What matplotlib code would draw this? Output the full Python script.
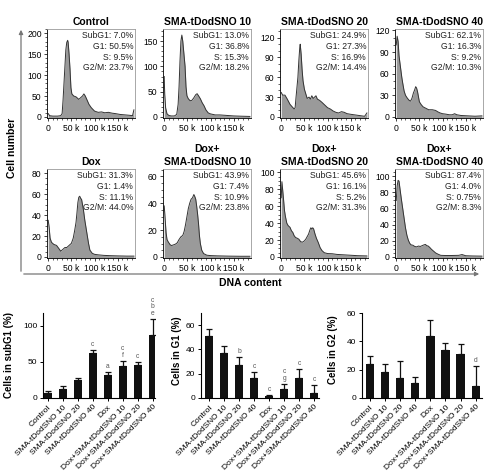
import numpy as np
import matplotlib
matplotlib.use("Agg")
import matplotlib.pyplot as plt
from matplotlib.patches import FancyArrowPatch
from matplotlib.ticker import MultipleLocator, FixedLocator

plt.rcParams['font.family'] = ['Liberation Sans', 'DejaVu Sans']

# ---- flow cytometry histograms: DNA content (k) vs cell count ----
control_x = [0, 3, 10, 20, 27, 30, 32, 35, 38, 40, 42, 43, 45, 47, 49, 51, 55, 60, 63, 66, 70, 74, 77,
             80, 84, 88, 93, 100, 108, 115, 122, 130, 138, 145, 155, 165, 175, 182, 185]
control_y = [8, 3, 2, 2, 3, 8, 40, 100, 160, 178, 183, 178, 150, 115, 70, 55, 50, 48, 45, 42, 46, 50, 55,
             50, 40, 30, 22, 14, 11, 12, 10, 11, 9, 8, 6, 5, 4, 3, 17]

sma10_x = [0, 1, 3, 6, 10, 15, 22, 27, 30, 32, 34, 36, 38, 40, 42, 45, 47, 49, 52, 56, 60, 64, 68, 71,
           74, 78, 82, 86, 90, 95, 100, 110, 120, 135, 150, 165, 185]
sma10_y = [80, 45, 18, 6, 3, 2, 2, 5, 25, 60, 110, 150, 162, 150, 130, 100, 60, 42, 36, 32, 33, 38, 44, 46,
           42, 36, 28, 22, 14, 8, 6, 4, 4, 3, 2, 1.5, 1]

sma20_x = [0, 3, 8, 13, 19, 24, 28, 30, 32, 34, 36, 38, 40, 41, 43, 45, 47, 50, 53, 56, 60, 63, 66, 69,
           72, 75, 78, 83, 88, 94, 100, 106, 112, 118, 124, 130, 136, 142, 150, 160, 170, 180, 185]
sma20_y = [37, 33, 33, 27, 19, 15, 12, 14, 30, 45, 60, 85, 105, 110, 95, 72, 55, 42, 35, 28, 30, 27, 32, 28,
           30, 32, 27, 25, 22, 18, 14, 12, 9, 7, 6, 8, 7, 5, 4, 3, 2, 1, 6]

sma40_x = [0, 2, 4, 6, 9, 12, 14, 17, 20, 24, 28, 31, 34, 37, 40, 42, 44, 46, 48, 50, 54, 58, 64, 70,
           78, 85, 90, 95, 100, 106, 115, 121, 126, 131, 140, 155, 170, 185]
sma40_y = [100, 112, 105, 85, 70, 55, 47, 36, 30, 26, 23, 22, 26, 33, 38, 42, 40, 35, 28, 21, 17, 14, 12, 10,
           10, 9, 7, 5.5, 4.5, 4, 3, 3, 4.5, 3, 2, 1.5, 1, 1.5]

dox_x = [0, 2, 4, 7, 12, 18, 23, 27, 31, 36, 40, 45, 50, 54, 57, 60, 62, 64, 66, 68, 70, 72, 74, 76,
         79, 83, 87, 90, 95, 100, 108, 120, 135, 150, 170, 185]
dox_y = [35, 28, 18, 14, 12, 11, 8, 5.5, 7, 9, 9, 11, 13, 18, 25, 33, 42, 52, 57, 58, 56, 55, 50, 45,
         35, 24, 13, 6.5, 3.5, 2.5, 2, 1.5, 1.2, 1, 0.8, 0.8]

dox10_x = [0, 2, 4, 6, 9, 13, 16, 20, 24, 28, 32, 36, 40, 43, 46, 49, 52, 55, 58, 61, 64, 66, 68, 70,
           72, 74, 76, 78, 81, 85, 92, 100, 115, 140, 165, 185]
dox10_y = [38, 28, 18, 13, 11, 9, 8.5, 9, 9.5, 10.5, 13, 15, 16, 19, 24, 30, 36, 40, 43, 44, 46.5, 45, 43, 38,
           32, 25, 16, 10, 5, 2.5, 1.3, 1, 0.8, 0.6, 0.5, 0.5]

dox20_x = [0, 1.5, 3, 5, 7, 9, 12, 15, 19, 22, 25, 28, 31, 35, 38, 42, 46, 50, 53, 56, 59, 62, 64, 66,
           68, 70, 73, 76, 80, 84, 88, 93, 100, 110, 120, 135, 150, 165, 185]
dox20_y = [70, 89, 80, 68, 55, 48, 40, 37, 35, 31, 29, 25, 23, 22, 21, 18, 17.5, 19, 21, 24, 27, 32, 34.5, 33,
           34.5, 33, 27, 22, 17, 11, 7.5, 5, 4, 3.8, 3, 2.5, 2, 1.5, 1.2]

dox40_x = [0, 2, 4, 6, 8, 11, 14, 17, 20, 23, 26, 29, 32, 36, 40, 44, 48, 52, 56, 60, 63, 66, 69, 72,
           76, 80, 85, 90, 96, 105, 120, 135, 142, 150, 165, 185]
dox40_y = [70, 88, 95, 94, 85, 72, 60, 48, 36, 27, 21, 17, 15, 14.5, 13, 12.5, 13.5, 13, 14, 15, 15.5, 14, 13.5, 12,
           9.5, 7.5, 5, 3.5, 2, 1.8, 1.8, 2, 3, 1.5, 1.2, 1]

hist_titles = ["Control", "SMA-tDodSNO 10", "SMA-tDodSNO 20", "SMA-tDodSNO 40",
               "Dox", "Dox+\nSMA-tDodSNO 10", "Dox+\nSMA-tDodSNO 20", "Dox+\nSMA-tDodSNO 40"]
subg1_pct = ["7.0%", "13.0%", "24.9%", "62.1%", "31.3%", "43.9%", "45.6%", "87.4%"]
g1_pct = ["50.5%", "36.8%", "27.3%", "16.3%", "1.4%", "7.4%", "16.1%", "4.0%"]
s_pct = ["9.5%", "15.3%", "16.9%", "9.2%", "11.1%", "10.9%", "5.2%", "0.75%"]
g2m_pct = ["23.7%", "18.2%", "14.4%", "10.3%", "44.0%", "23.8%", "31.3%", "8.3%"]
hist_ymax = [210, 174, 133, 122, 84, 65.5, 104, 109]
hist_ystep = [50, 50, 30, 30, 20, 20, 20, 20]

# ---- summary bar charts ----
groups = ["Control", "SMA-tDodSNO 10", "SMA-tDodSNO 20", "SMA-tDodSNO 40", "Dox",
          "Dox+SMA-tDodSNO 10", "Dox+SMA-tDodSNO 20", "Dox+SMA-tDodSNO 40"]
subg1_mean = [7.5, 13, 25, 62, 32, 44.5, 45.5, 87.5]
subg1_err = [2, 4, 3, 4, 3.5, 6.5, 4.5, 22]
subg1_sig = ["", "", "", "c", "a", "c\nf", "c", "c\nb\ne"]
g1_mean = [51, 37, 27.5, 16.5, 1.5, 7.5, 16.4, 4]
g1_err = [6, 6, 6.5, 5, 1, 4, 7.8, 7]
g1_sig = ["", "", "b", "c", "c", "c\ng", "c", "c"]
g2_mean = [23.8, 18.3, 14.4, 10.4, 44, 33.8, 31.3, 8.4]
g2_err = [5.7, 5.4, 11.6, 4.3, 11, 4.7, 7.1, 14.2]
g2_sig = ["", "", "", "", "", "", "", "d"]

W, H = 500, 474
fig = plt.figure(figsize=(W / 100, H / 100), dpi=100)


def rect(left, top, width, height):
    return [left / W, 1 - (top + height) / H, width / W, height / H]


hist_x = [control_x, sma10_x, sma20_x, sma40_x, dox_x, dox10_x, dox20_x, dox40_x]
hist_y = [control_y, sma10_y, sma20_y, sma40_y, dox_y, dox10_y, dox20_y, dox40_y]
col_left = [47.3, 163.3, 280.3, 395.3]
row_top = [29, 169]

for i in range(8):
    ax = fig.add_axes(rect(col_left[i % 4], row_top[i // 4], 88, 89))
    ylo = -0.012 * hist_ymax[i]
    ax.fill_between(hist_x[i], hist_y[i], ylo, color='#9a9a9a', lw=0)
    ax.plot(hist_x[i], hist_y[i], color='#333333', lw=0.7)
    ax.set_xlim(-2, 188)
    ax.set_ylim(ylo, hist_ymax[i])
    ax.xaxis.set_major_locator(FixedLocator([0, 50, 100, 150]))
    ax.set_xticklabels(["0", "50 k", "100 k", "150 k"])
    ax.xaxis.set_minor_locator(MultipleLocator(10))
    ax.yaxis.set_major_locator(MultipleLocator(hist_ystep[i]))
    ax.yaxis.set_minor_locator(MultipleLocator(hist_ystep[i] / 5 if hist_ystep[i] == 50 else 10 if hist_ystep[i] == 30 else 5))
    ax.tick_params(which='major', labelsize=6.2, length=2.5, width=0.6, pad=1.5, color='#222')
    ax.tick_params(which='minor', length=1.3, width=0.5, color='#222')
    for side in ['top', 'right']:
        ax.spines[side].set_color('#9a9a9a')
    for side in ax.spines:
        ax.spines[side].set_linewidth(0.6)
    ax.set_title(hist_titles[i], fontsize=7.5, fontweight='bold', pad=3, linespacing=1.3)
    stats = "SubG1: %s\nG1: %s\nS: %s\nG2/M: %s" % (subg1_pct[i], g1_pct[i], s_pct[i], g2m_pct[i])
    ax.text(0.974, 0.975, stats, transform=ax.transAxes, ha='right', va='top',
            fontsize=6.2, linespacing=1.25, color='#222')

# frame arrows around the histogram block
fig.add_artist(FancyArrowPatch((21 / W, 1 - 274 / H), (21 / W, 1 - 27 / H), transform=fig.transFigure,
                               arrowstyle='-|>', mutation_scale=6, color='#777777', lw=0.9))
fig.add_artist(FancyArrowPatch((21 / W, 1 - 274 / H), (482 / W, 1 - 274 / H), transform=fig.transFigure,
                               arrowstyle='-|>', mutation_scale=6, color='#777777', lw=0.9))
fig.text(12 / W, 1 - 148 / H, "Cell number", rotation=90, ha='center', va='center',
         fontsize=7.5, fontweight='bold')
fig.text(250 / W, 1 - 283 / H, "DNA content", ha='center', va='center',
         fontsize=7.5, fontweight='bold')

bar_specs = [
    (rect(42.7, 313, 112.3, 85), subg1_mean, subg1_err, subg1_sig, "Cells in subG1 (%)", 118, 50, (-0.35, 7.15), (-0.26, 0.5)),
    (rect(200.7, 313, 118.3, 85), g1_mean, g1_err, g1_sig, "Cells in G1 (%)", 70, 20, (-0.57, 7.33), (-0.158, 0.56)),
    (rect(361.7, 313, 120, 85), g2_mean, g2_err, g2_sig, "Cells in G2 (%)", 60, 20, (-0.55, 7.4), (-0.2, 0.57)),
]
xpos = np.arange(len(groups))
for r, means, errs, sig, ylab, ymax, ystep, xl, labpos in bar_specs:
    ax = fig.add_axes(r)
    ax.bar(xpos, means, width=0.55, color='#111111')
    ax.errorbar(xpos, means, yerr=[np.zeros(len(errs)), errs], fmt='none', ecolor='#111111',
                elinewidth=0.9, capsize=2.2, capthick=0.9)
    for xi, m, e, s in zip(xpos, means, errs, sig):
        if s:
            ax.annotate(s, (xi, m + e), xytext=(0, 1.5), textcoords='offset points', ha='center',
                        va='bottom', fontsize=4.8, color='#555555', linespacing=0.95)
    ax.set_xlim(*xl)
    ax.set_ylim(0, ymax)
    ax.yaxis.set_major_locator(MultipleLocator(ystep))
    ax.set_xticks(xpos)
    ax.set_xticklabels(groups, rotation=45, ha='right', rotation_mode='anchor')
    ax.tick_params(labelsize=6, length=2.5, width=0.7, pad=1.5)
    ax.spines['top'].set_visible(False)
    ax.spines['right'].set_visible(False)
    ax.spines['left'].set_linewidth(0.8)
    ax.spines['bottom'].set_linewidth(0.8)
    ax.set_ylabel(ylab, fontsize=7, fontweight='bold')
    ax.yaxis.set_label_coords(*labpos)

fig.savefig("out.png", dpi=100)
